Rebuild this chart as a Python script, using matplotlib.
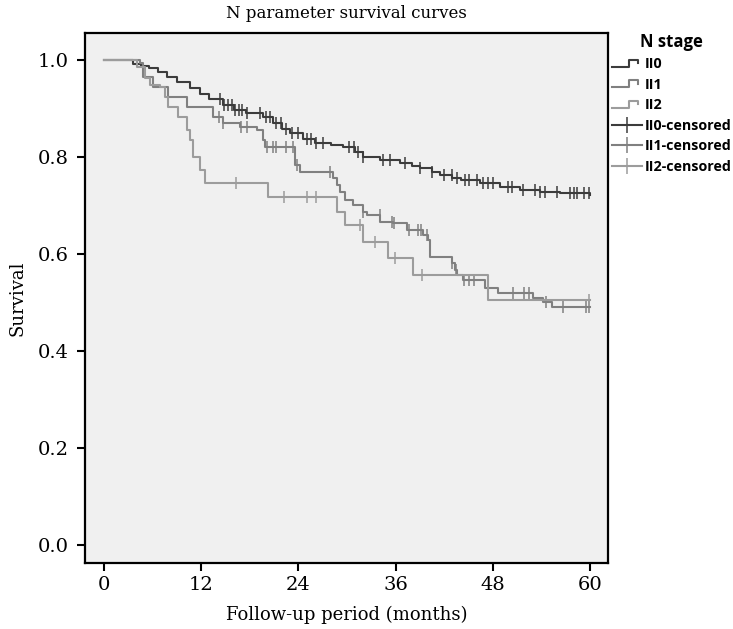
import numpy as np
import matplotlib
matplotlib.use("Agg")
import matplotlib.pyplot as plt
from matplotlib.lines import Line2D
from matplotlib.legend_handler import HandlerBase

# Kaplan-Meier step data (months, survival)
n0_time = [0, 3.6, 4.5, 5.5, 6.7, 7.8, 9.0, 10.6, 11.8, 13.0, 14.7, 16.0, 17.5,
           19.6, 20.8, 22.0, 23.0, 24.6, 26.0, 28.0, 29.5, 31.0, 32.0, 34.1,
           36.5, 38.0, 39.0, 40.5, 41.5, 43.0, 44.0, 46.4, 48.9, 51.4, 53.8,
           56.3, 60]
n0_surv = [1.0, 0.993, 0.987, 0.983, 0.975, 0.965, 0.955, 0.942, 0.930, 0.920,
           0.907, 0.898, 0.890, 0.882, 0.870, 0.858, 0.849, 0.837, 0.830, 0.826,
           0.821, 0.810, 0.800, 0.794, 0.788, 0.782, 0.777, 0.770, 0.763, 0.758,
           0.753, 0.746, 0.738, 0.732, 0.728, 0.726, 0.722]

n1_time = [0, 4.4, 4.8, 6.0, 7.9, 10.2, 13.5, 14.7, 16.8, 18.9, 19.6, 19.9,
           23.6, 24.2, 28.3, 28.8, 29.1, 29.8, 30.7, 31.9, 32.5, 34.1, 35.7,
           37.4, 39.4, 40.0, 40.2, 43.0, 43.3, 43.6, 44.3, 47.0, 48.6, 53.0,
           54.2, 55.3, 60]
n1_surv = [1.0, 0.994, 0.965, 0.944, 0.924, 0.903, 0.882, 0.870, 0.862, 0.856,
           0.835, 0.821, 0.784, 0.769, 0.757, 0.742, 0.728, 0.711, 0.701, 0.687,
           0.680, 0.666, 0.664, 0.649, 0.639, 0.629, 0.594, 0.581, 0.567, 0.557,
           0.546, 0.530, 0.520, 0.509, 0.501, 0.491, 0.491]

n2_time = [0, 4.1, 5.1, 5.7, 6.9, 7.5, 7.9, 9.1, 10.2, 10.6, 11.0, 11.9, 12.5,
           20.2, 28.8, 29.8, 31.9, 35.1, 38.1, 47.4, 60]
n2_surv = [1.0, 0.986, 0.963, 0.948, 0.944, 0.924, 0.903, 0.882, 0.856, 0.835,
           0.800, 0.773, 0.746, 0.718, 0.687, 0.660, 0.625, 0.592, 0.557, 0.505,
           0.505]

# censoring times (months)
n0_cens = [14.3, 14.8, 15.3, 15.8, 16.2, 16.6, 17.0, 17.6, 19.2, 20.0, 20.5,
           21.2, 21.8, 22.4, 23.2, 24.0, 25.0, 25.6, 26.2, 27.0, 30.2, 30.8,
           31.4, 32.0, 34.4, 35.3, 37.2, 39.0, 40.5, 42.0, 42.9, 43.6, 44.5,
           45.1, 46.0, 46.8, 47.4, 48.0, 49.8, 50.4, 51.7, 53.2, 53.8, 54.4,
           55.9, 57.5, 58.0, 58.4, 59.2, 59.8]
n1_cens = [14.2, 14.7, 16.9, 17.6, 20.1, 20.9, 21.2, 22.4, 23.3, 23.8, 27.9,
           31.9, 34.0, 35.5, 35.8, 37.7, 38.8, 39.1, 39.8, 43.0, 43.4, 44.4,
           45.1, 45.6, 50.5, 51.8, 52.5, 54.5, 56.7, 59.5, 59.9]
n2_cens = [16.3, 22.2, 25.1, 26.2, 31.6, 33.5, 35.9, 39.3, 59.8]

groups = ["II0", "II1", "II2"]
colors = ["#3c3c3c", "#808080", "#9c9c9c"]

serif = "DejaVu Serif"
legend_font = "Open Sans"


def surv_at(times, survs, c):
    idx = np.searchsorted(times, c, side="right") - 1
    return np.asarray(survs)[idx]


class StepHandler(HandlerBase):
    # draws the little step glyph used in SPSS legends
    def create_artists(self, legend, orig_handle, xdescent, ydescent,
                       width, height, fontsize, trans):
        xs = np.array([0.0, 0.55, 0.55, 0.85, 0.85]) * width - xdescent
        ys = np.array([0.15, 0.15, 0.85, 0.85, 0.5]) * height - ydescent
        ln = Line2D(xs, ys, color=orig_handle.get_color(),
                    lw=orig_handle.get_linewidth(), transform=trans)
        return [ln]


fig = plt.figure(figsize=(7.33, 6.29), dpi=100)
ax = fig.add_axes([85 / 733, 1 - 563 / 629, (608 - 85) / 733, (563 - 33) / 629])
ax.set_facecolor("#f0f0f0")

data = [(n0_time, n0_surv, n0_cens), (n1_time, n1_surv, n1_cens),
        (n2_time, n2_surv, n2_cens)]
for (t, s, c), col in zip(data, colors):
    ax.step(t, s, where="post", color=col, lw=1.5)
    ax.plot(c, surv_at(t, s, c), ls="none", marker="|", ms=9, mew=1.1,
            color=col)

ax.set_xlim(-2.35, 62.2)
ax.set_ylim(-0.037, 1.056)
ax.set_xticks([0, 12, 24, 36, 48, 60])
ax.set_yticks([0.0, 0.2, 0.4, 0.6, 0.8, 1.0])
ax.set_yticklabels(["0.0", "0.2", "0.4", "0.6", "0.8", "1.0"])
for sp in ax.spines.values():
    sp.set_linewidth(1.6)
ax.tick_params(axis="x", direction="out", length=6, width=1.5, labelsize=14, pad=3)
ax.tick_params(axis="y", direction="out", length=6, width=1.5, labelsize=14, pad=6)
for lab in ax.get_xticklabels() + ax.get_yticklabels():
    lab.set_fontfamily(serif)

ax.set_xlabel("Follow-up period (months)", fontsize=13, family=serif, labelpad=9)
ax.set_ylabel("Survival", fontsize=13, family=serif, labelpad=8)
ax.set_title("N parameter survival curves", fontsize=12, family=serif, pad=11)

handles = []
for g, col in zip(groups, colors):
    handles.append(Line2D([], [], color=col, lw=1.5, label=g))
cens_handles = []
for g, col in zip(groups, colors):
    cens_handles.append(Line2D([], [], color=col, lw=1.5, marker="|", ms=11,
                               mew=1.1, label=g + "-censored"))

leg = fig.legend(handles=handles + cens_handles, loc="upper left",
                 bbox_to_anchor=(612 / 733, 1 - 33 / 629),
                 frameon=False, title="N stage",
                 prop={"family": legend_font, "weight": "bold", "size": 10.3},
                 title_fontproperties={"family": legend_font, "weight": "bold",
                                       "size": 12},
                 handlelength=2.1, handletextpad=0.2, labelspacing=0.45,
                 borderaxespad=0, borderpad=0,
                 handler_map={h: StepHandler() for h in handles})

fig.savefig("out.png", dpi=100, facecolor="white")
